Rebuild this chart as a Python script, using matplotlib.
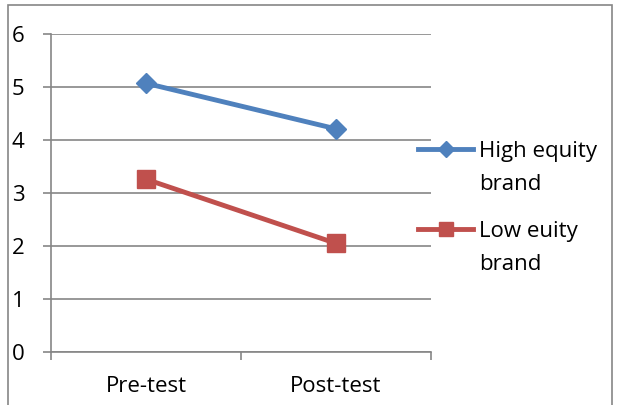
import matplotlib.pyplot as plt
from matplotlib.lines import Line2D
from matplotlib.patches import Rectangle

plt.rcParams['font.family'] = ['Open Sans', 'DejaVu Sans']

tests = ['Pre-test', 'Post-test']
high_equity = [5.07, 4.21]
low_equity = [3.26, 2.05]
series_names = ['High equity\nbrand', 'Low euity\nbrand']
blue = '#4F81BD'
red = '#C0504D'
grid_gray = '#868686'

fig = plt.figure(figsize=(6.18, 4.05), dpi=100)
ax = fig.add_axes([51 / 618, 1 - 352 / 405, 380 / 618, 318 / 405])

x = list(range(len(tests)))
ax.plot(x, high_equity, color=blue, lw=3.5, marker='D', ms=10, zorder=3)
ax.plot(x, low_equity, color=red, lw=3.5, marker='s', ms=13, zorder=3)

ax.set_xlim(-0.5, len(tests) - 0.5)
ax.set_ylim(0, 6)
ax.set_yticks(range(0, 7))
ax.set_xticks(x)
ax.set_xticklabels(tests)
ax.set_xticks([-0.5, 0.5, 1.5], minor=True)
ax.tick_params(axis='x', which='major', length=0, pad=17, labelsize=16)
ax.tick_params(axis='x', which='minor', length=6, width=1.2, color=grid_gray, direction='out')
ax.tick_params(axis='y', length=6, width=1.2, color=grid_gray, pad=13, labelsize=16)
ax.grid(axis='y', color=grid_gray, lw=1.2)
ax.set_axisbelow(True)
for side in ['top', 'right']:
    ax.spines[side].set_visible(False)
for side in ['left', 'bottom']:
    ax.spines[side].set_color(grid_gray)
    ax.spines[side].set_linewidth(1.2)

# legend keys drawn by hand so the marker sits on the first text line
for name, color, mk, ms, ypix in [(series_names[0], blue, 'D', 8, 149),
                                  (series_names[1], red, 's', 10, 229)]:
    yf = 1 - ypix / 405
    fig.add_artist(Line2D([418 / 618, 473 / 618], [yf, yf], color=color, lw=3.5,
                          transform=fig.transFigure))
    fig.add_artist(Line2D([445.5 / 618], [yf], color=color, marker=mk, ms=ms,
                          transform=fig.transFigure))
    for i, line in enumerate(name.split('\n')):
        fig.text(479 / 618, 1 - (ypix + 8 + 33 * i) / 405, line, fontsize=16,
                 va='baseline', ha='left')

fig.add_artist(Rectangle((8 / 618, -0.05), 604 / 618, 1 - 5 / 405 + 0.05,
                         transform=fig.transFigure, fill=False,
                         edgecolor=grid_gray, lw=1.2))

fig.savefig('out.png', dpi=100)
